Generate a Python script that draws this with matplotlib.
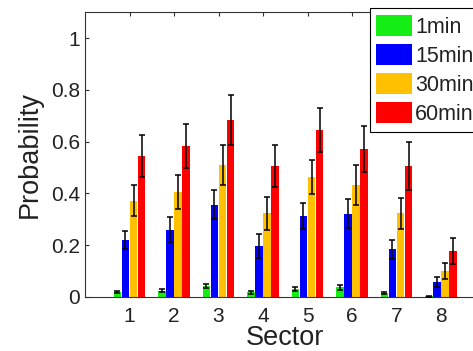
import matplotlib
matplotlib.use("Agg")
import matplotlib.pyplot as plt
import numpy as np

plt.rcParams['font.family'] = ['Liberation Sans', 'DejaVu Sans']

sectors = [1, 2, 3, 4, 5, 6, 7, 8]
labels = ["1min", "15min", "30min", "60min"]
colors = ["#14EE14", "#0000FF", "#FFC000", "#FF0000"]

p1 = [0.020, 0.025, 0.042, 0.018, 0.032, 0.037, 0.014, 0.002]
e1 = [0.005, 0.007, 0.008, 0.005, 0.008, 0.009, 0.004, 0.001]
p15 = [0.220, 0.260, 0.357, 0.197, 0.313, 0.322, 0.184, 0.058]
e15 = [0.035, 0.048, 0.056, 0.046, 0.052, 0.056, 0.038, 0.018]
p30 = [0.372, 0.406, 0.510, 0.323, 0.463, 0.432, 0.323, 0.100]
e30 = [0.060, 0.066, 0.076, 0.064, 0.066, 0.077, 0.061, 0.032]
p60 = [0.545, 0.584, 0.684, 0.506, 0.646, 0.573, 0.506, 0.179]
e60 = [0.082, 0.085, 0.095, 0.080, 0.085, 0.089, 0.093, 0.050]

means = [p1, p15, p30, p60]
errs = [e1, e15, e30, e60]

fig = plt.figure(figsize=(4.73, 3.51), dpi=100)
# axes runs a bit past the right edge, like the cropped original
ax = fig.add_axes([85/473, 54/351, 9*44.5/473, 284.7/351])

x = np.array(sectors)
step = 4 / 5.5 / 4
for i in range(4):
    xs = x + (i - 1.5) * step
    ax.bar(xs, means[i], width=step*0.93, color=colors[i], label=labels[i], zorder=2)
    ax.errorbar(xs, means[i], yerr=errs[i], fmt='none', ecolor='black',
                elinewidth=1.1, capsize=2.4, capthick=1.1, zorder=3)

ax.set_xlim(0, 9)
ax.set_ylim(0, 1.1)
ax.set_xticks(sectors)
ax.set_yticks([0, 0.2, 0.4, 0.6, 0.8, 1])
ax.set_yticklabels(["0", "0.2", "0.4", "0.6", "0.8", "1"])

txt = "#222222"
for s in ax.spines.values():
    s.set_color("#333333")
    s.set_linewidth(0.8)
ax.tick_params(axis='both', direction='in', length=3, width=0.8, colors="#333333",
               labelcolor=txt, labelsize=15, top=True, right=True)
ax.tick_params(axis='x', pad=7.5)
ax.tick_params(axis='y', pad=3.5)

ax.set_xlabel("Sector", fontsize=19.5, color=txt, labelpad=-1)
ax.set_ylabel("Probability", fontsize=19.5, color=txt, labelpad=6)

leg = ax.legend(loc='upper left', bbox_to_anchor=(369.5/473, 1 - 8.3/351),
                bbox_transform=fig.transFigure, borderaxespad=0, fontsize=15.5,
                handlelength=1.66, handleheight=1.14, labelspacing=0.29,
                handletextpad=0.17, borderpad=0.3, fancybox=False, framealpha=1)
leg.get_frame().set_edgecolor("black")
leg.get_frame().set_linewidth(0.8)
for t in leg.get_texts():
    t.set_color(txt)

fig.savefig("out.png", dpi=100)
